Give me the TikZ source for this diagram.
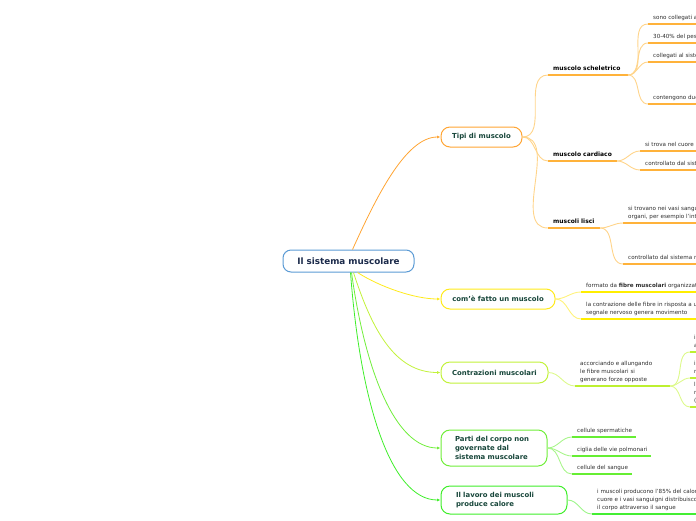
\documentclass[tikz,border=0pt]{standalone}
\usepackage{fontspec}
\setmainfont{DejaVu Sans}
\usetikzlibrary{arrows.meta}
\definecolor{cblue}{HTML}{5B9BD5}
\definecolor{ctext}{HTML}{1C2B4B}
\definecolor{ttext}{HTML}{17463A}
\definecolor{ltext}{HTML}{2E2E2E}
\definecolor{corange}{HTML}{FFA534}
\definecolor{corangeL}{HTML}{FFD48A}
\definecolor{corangeU}{HTML}{FFB23A}
\definecolor{cyellow}{HTML}{FFEA1A}
\definecolor{cyellowL}{HTML}{FFF27A}
\definecolor{cyellowU}{HTML}{FFEE00}
\definecolor{clime}{HTML}{C2F23A}
\definecolor{climeL}{HTML}{DDF98C}
\definecolor{climeU}{HTML}{BDF030}
\definecolor{cgreen}{HTML}{70EE3A}
\definecolor{cgreenL}{HTML}{A9F58C}
\definecolor{cgreenU}{HTML}{66EE33}
\definecolor{cgreenB}{HTML}{3FEE2A}
\definecolor{cgreenBL}{HTML}{9DF58A}
\definecolor{cgreenBU}{HTML}{44EE33}
\tikzset{
  central/.style={draw=cblue, line width=1pt, rounded corners=8pt, fill=white,
    font=\fontsize{8.8}{10}\selectfont\bfseries, text=ctext, inner sep=0,
    minimum width=131pt, minimum height=22pt},
  topic/.style={draw, line width=1pt, rounded corners=9pt, fill=white,
    font=\fontsize{6.9}{9}\selectfont\bfseries, text=ttext, inner sep=0,
    minimum height=20pt, align=left},
  subt/.style={anchor=south west, inner sep=0, text depth=1.3pt,
    font=\fontsize{6}{8}\selectfont\bfseries, text=black},
  leaf/.style={anchor=south west, inner sep=0, text depth=1.3pt, align=left,
    font=\fontsize{5.6}{8}\selectfont, text=ltext},
  arr/.style={line width=0.8pt, -{Latex[length=3.5pt,width=3pt]}},
  ln/.style={line width=0.9pt},
  ul/.style={line width=1.9pt}
}
\begin{document}
\begin{tikzpicture}[x=1pt,y=-1pt]
\useasboundingbox (0,0) rectangle (696,520);
\clip (0,0) rectangle (696,520);

% central and main topics
\node[central] (c) at (348.5,261) {Il sistema muscolare};
\node[topic, draw=corange, minimum width=81pt] (tipi) at (481.5,137) {Tipi di muscolo};
\node[topic, draw=cyellow, minimum width=114pt] (come) at (498,299) {com'è fatto un muscolo};
\node[topic, draw=clime, minimum width=107pt, minimum height=21pt] (contr) at (494.5,372.5) {Contrazioni muscolari};
\node[topic, draw=cgreen, text width=78pt, inner xsep=14pt, minimum height=36pt] (parti) at (494,448) {Parti del corpo non\\governate dal\\sistema muscolare};
\node[topic, draw=cgreenB, text width=96pt, inner xsep=15pt, minimum height=28pt] (lav) at (504,500) {Il lavoro dei muscoli\\produce calore};

\draw[arr, corange] ([xshift=4pt]c.north) .. controls (375,200) and (405,137) .. (tipi.west);
\draw[arr, cyellow] ([xshift=9pt]c.south) .. controls (380,287) and (415,299) .. (come.west);
\draw[arr, clime] ([xshift=5pt]c.south) .. controls (372,330) and (395,372.5) .. (contr.west);
\draw[arr, cgreen] ([xshift=3pt]c.south) .. controls (365,370) and (395,448) .. (parti.west);
\draw[arr, cgreenB] ([xshift=2pt]c.south) .. controls (360,400) and (390,500) .. (lav.west);

% Tipi di muscolo
\coordinate (S1s) at (548,75);  \coordinate (S1e) at (628,75);
\coordinate (S2s) at (548,161); \coordinate (S2e) at (617,161);
\coordinate (S3s) at (548,228); \coordinate (S3e) at (600,228);
\foreach \s in {S1,S2,S3} {\draw[ul, corangeU] (\s s) -- (\s e);
  \draw[ln, corangeL] (tipi.east) to[out=0,in=180] (\s s);}
\node[subt] (S1) at (553,72.3) {muscolo scheletrico};
\node[subt] (S2) at (553,158.3) {muscolo cardiaco};
\node[subt] (S3) at (553,225.3) {muscoli lisci};

\coordinate (T1s) at (648,24);  \coordinate (T1e) at (700,24);
\coordinate (T2s) at (648,43);  \coordinate (T2e) at (700,43);
\coordinate (T3s) at (648,62);  \coordinate (T3e) at (700,62);
\coordinate (T4s) at (648,104); \coordinate (T4e) at (700,104);
\foreach \s in {T1,T2,T3,T4} {\draw[ul, corangeU] (\s s) -- (\s e);
  \draw[ln, corangeL] (S1e) to[out=0,in=180] (\s s);}
\node[leaf] (T1) at (653,21.3) {sono collegati alle ossa};
\node[leaf] (T2) at (653,40.3) {30-40\% del peso corporeo};
\node[leaf] (T3) at (653,59.3) {collegati al sistema nervoso};
\node[leaf] (T4) at (653,101.3) {contengono due tipi di fibre};

\coordinate (T5s) at (640,151); \coordinate (T5e) at (700,151);
\coordinate (T6s) at (640,170); \coordinate (T6e) at (700,170);
\foreach \s in {T5,T6} {\draw[ul, corangeU] (\s s) -- (\s e);
  \draw[ln, corangeL] (S2e) to[out=0,in=180] (\s s);}
\node[leaf] (T5) at (645,148.3) {si trova nel cuore};
\node[leaf] (T6) at (645,167.3) {controllato dal sistema nervoso};

\coordinate (T7s) at (623,223); \coordinate (T7e) at (700,223);
\coordinate (T8s) at (623,264); \coordinate (T8e) at (700,264);
\foreach \s in {T7,T8} {\draw[ul, corangeU] (\s s) -- (\s e);
  \draw[ln, corangeL] (S3e) to[out=0,in=180] (\s s);}
\node[leaf] (T7) at (628,220.3) {si trovano nei vasi sanguigni e negli\\organi, per esempio l'intestino};
\node[leaf] (T8) at (628,261.3) {controllato dal sistema nervoso};

% com'è fatto
\coordinate (C1s) at (581,292); \coordinate (C1e) at (700,292);
\coordinate (C2s) at (581,319); \coordinate (C2e) at (700,319);
\foreach \s in {C1,C2} {\draw[ul, cyellowU] (\s s) -- (\s e);
  \draw[ln, cyellowL] (come.east) to[out=0,in=180] (\s s);}
\node[leaf] (C1) at (586,289.3) {formato da \textbf{fibre muscolari} organizzate in fasci};
\node[leaf] (C2) at (586,316.3) {la contrazione delle fibre in risposta a un\\segnale nervoso genera movimento};

% contrazioni
\coordinate (K1s) at (575,386); \coordinate (K1e) at (670,386);
\draw[ul, climeU] (K1s) -- (K1e);
\draw[ln, climeL] (contr.east) to[out=0,in=180] (K1s);
\node[leaf] (K1) at (580,383.3) {accorciando e allungando\\le fibre muscolari si\\generano forze opposte};
\coordinate (K2s) at (690,352); \coordinate (K2e) at (700,352);
\coordinate (K3s) at (690,378); \coordinate (K3e) at (700,378);
\coordinate (K4s) at (690,407); \coordinate (K4e) at (700,407);
\foreach \s in {K2,K3,K4} {\draw[ul, climeU] (\s s) -- (\s e);
  \draw[ln, climeL] (K1e) to[out=0,in=180] (\s s);}
\node[leaf] (K2) at (694,349.3) {i\\a};
\node[leaf] (K3) at (694,375.3) {i\\n};
\node[leaf] (K4) at (694,404.3) {l\\n\\(};

% parti
\coordinate (P1s) at (572,437); \coordinate (P1e) at (636,437);
\coordinate (P2s) at (572,456); \coordinate (P2e) at (651,456);
\coordinate (P3s) at (572,474); \coordinate (P3e) at (632,474);
\foreach \s in {P1,P2,P3} {\draw[ul, cgreenU] (\s s) -- (\s e);
  \draw[ln, cgreenL] (parti.east) to[out=0,in=180] (\s s);}
\node[leaf] (P1) at (577,434.3) {cellule spermatiche};
\node[leaf] (P2) at (577,453.3) {ciglia delle vie polmonari};
\node[leaf] (P3) at (577,471.3) {cellule del sangue};

% lavoro
\coordinate (W1s) at (592,514); \coordinate (W1e) at (700,514);
\draw[ul, cgreenBU] (W1s) -- (W1e);
\draw[ln, cgreenBL] (lav.east) to[out=0,in=180] (W1s);
\node[leaf] (W1) at (597,511.3) {i muscoli producono l'85\% del calore\\cuore e i vasi sanguigni distribuiscono\\il corpo attraverso il sangue};
\end{tikzpicture}
\end{document}
